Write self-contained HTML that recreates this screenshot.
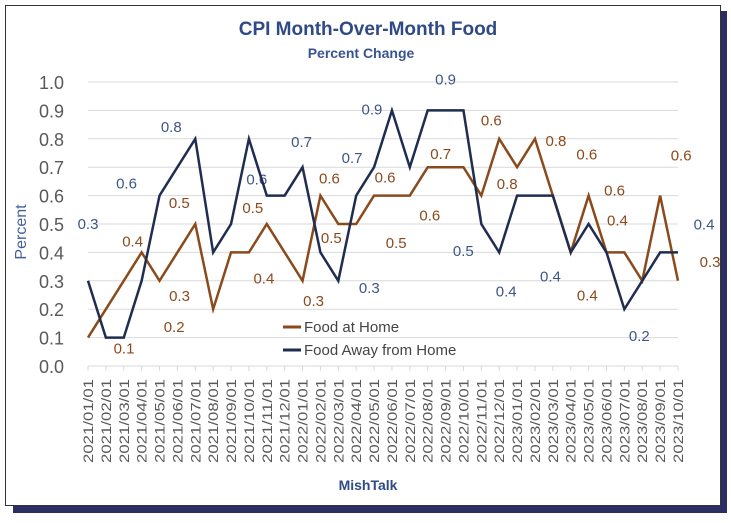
<!DOCTYPE html>
<html><head><meta charset="utf-8"><style>
body{margin:0;background:#fff;width:731px;height:518px;overflow:hidden;font-family:"Liberation Sans",sans-serif}
</style></head><body>
<svg id="c" width="731" height="518" xmlns="http://www.w3.org/2000/svg">
<rect x="13" y="11" width="714" height="502" fill="#2b2d63"/>
<rect x="5.5" y="5.5" width="715" height="500" fill="#fff" stroke="#333" stroke-width="1"/>
<text x="368" y="35" text-anchor="middle" font-size="19" font-weight="bold" fill="#2f4a85">CPI Month-Over-Month Food</text>
<text x="361" y="58" text-anchor="middle" font-size="14" font-weight="bold" fill="#3a5490">Percent Change</text>
<text transform="translate(26,232) rotate(-90)" text-anchor="middle" font-size="16" fill="#44609a">Percent</text>
<text x="368" y="490" text-anchor="middle" font-size="14" font-weight="bold" fill="#2f4a85">MishTalk</text>
<g id="grid"></g><g id="labels"></g><g id="lines"></g>
<g>
<line x1="283" y1="327" x2="301" y2="327" stroke="#8b4a1c" stroke-width="3"/>
<text x="304" y="332" font-size="15" fill="#444">Food at Home</text>
<line x1="283" y1="350" x2="301" y2="350" stroke="#1f2d50" stroke-width="3"/>
<text x="304" y="355" font-size="15" fill="#444">Food Away from Home</text>
</g>
</svg>
<script>
const categories=["2021/01/01","2021/02/01","2021/03/01","2021/04/01","2021/05/01","2021/06/01","2021/07/01","2021/08/01","2021/09/01","2021/10/01","2021/11/01","2021/12/01","2022/01/01","2022/02/01","2022/03/01","2022/04/01","2022/05/01","2022/06/01","2022/07/01","2022/08/01","2022/09/01","2022/10/01","2022/11/01","2022/12/01","2023/01/01","2023/02/01","2023/03/01","2023/04/01","2023/05/01","2023/06/01","2023/07/01","2023/08/01","2023/09/01","2023/10/01"];
const foodAtHome=[0.1,0.2,0.3,0.4,0.3,0.4,0.5,0.2,0.4,0.4,0.5,0.4,0.3,0.6,0.5,0.5,0.6,0.6,0.6,0.7,0.7,0.7,0.6,0.8,0.7,0.8,0.6,0.4,0.6,0.4,0.4,0.3,0.6,0.3];
const foodAway=[0.3,0.1,0.1,0.3,0.6,0.7,0.8,0.4,0.5,0.8,0.6,0.6,0.7,0.4,0.3,0.6,0.7,0.9,0.7,0.9,0.9,0.9,0.5,0.4,0.6,0.6,0.6,0.4,0.5,0.4,0.2,0.3,0.4,0.4];
const yTicks=[0,0.1,0.2,0.3,0.4,0.5,0.6,0.7,0.8,0.9,1.0];
// labelled points: index and label offset
const homeLabelIdx=[0,3,4,6,7,9,10,12,13,14,15,16,18,19,22,23,25,26,28,29,30,32,33];
const homeLabelOff=[[36,10],[-9,-12],[20,14],[-16,-22],[-39,17],[15,25],[-14,-17],[11,19],[9,-18],[-7,13],[40,18],[11,-19],[20,19],[13,-14],[10,-76],[8,44],[21,1],[34,-42],[26,-6],[11,-33],[-37,42],[21,-41],[32,-20]];
const awayLabelIdx=[0,4,6,10,12,14,16,17,20,22,23,29,30,33];
const awayLabelOff=[[0,-58],[-33,-13],[-24,-13],[-10,-17],[-1,-26],[31,6],[-22,-10],[-20,-2],[0,-32],[-18,26],[7,38],[-56,23],[15,26],[26,-29]];
const X0=88,X1=678,Y0=366,Y1=82;
const xs=i=>X0+(X1-X0)*i/(categories.length-1);
const ys=v=>Y0-(Y0-Y1)*v/1.0;
const NS="http://www.w3.org/2000/svg";
function mk(tag,attrs,parent){const e=document.createElementNS(NS,tag);for(const k in attrs)e.setAttribute(k,attrs[k]);parent.appendChild(e);return e;}
const grid=document.getElementById('grid'),lines=document.getElementById('lines'),labels=document.getElementById('labels');
yTicks.forEach(t=>{
 const l=mk('line',{x1:X0,x2:X1,y1:ys(t),y2:ys(t),stroke:'#d9d9d9','stroke-width':1},grid);
 
 
 const tx=mk('text',{x:64,y:ys(t)+7,'text-anchor':'end','font-size':18,fill:'#595959'},grid);
 tx.textContent=t.toFixed(1);
 
 
});
categories.forEach((c,i)=>{
 const tk=mk('line',{x1:xs(i),x2:xs(i),y1:Y0,y2:Y0+5,stroke:'#d9d9d9'},grid);
 
 
 const tx=mk('text',{transform:`translate(${xs(i)+5},${Y0+97}) rotate(-90)`,'font-size':14,fill:'#595959',textLength:84,lengthAdjust:'spacingAndGlyphs'},grid);
 tx.textContent=c;
 
 
});
function series(vals,color,name,idx,off){
 const p=mk('polyline',{points:vals.map((v,i)=>xs(i)+','+ys(v)).join(' '),fill:'none',stroke:color,'stroke-width':2.5,'stroke-linejoin':'miter'},lines);
 
 
 idx.forEach((i,k)=>{
  const x=xs(i),y=ys(vals[i]),lx=x+off[k][0],ly=y+off[k][1];
  const t=mk('text',{x:lx,y:ly+6,'text-anchor':'middle','font-size':15,fill:color==='#8b4a1c'?'#8b4a1c':'#3d5688'},labels);
  t.textContent=vals[i].toFixed(1);
  
  
 });
}
series(foodAtHome,'#8b4a1c','food-at-home',homeLabelIdx,homeLabelOff);
series(foodAway,'#1f2d50','food-away',awayLabelIdx,awayLabelOff);
</script>
</body></html>
